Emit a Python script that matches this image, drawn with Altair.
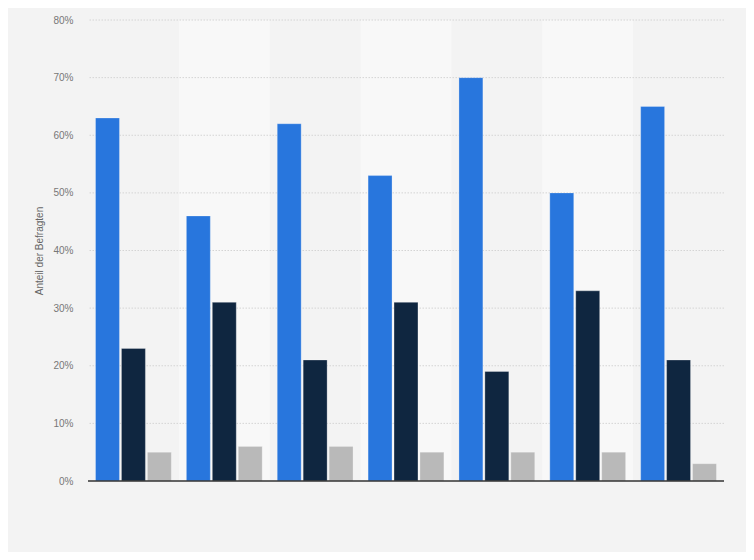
import altair as alt
import pandas as pd

groups = ["1", "2", "3", "4", "5", "6", "7"]
series = ["Ja", "Nein", "Weiß nicht"]
ja = [63, 46, 62, 53, 70, 50, 65]
nein = [23, 31, 21, 31, 19, 33, 21]
weiss_nicht = [5, 6, 6, 5, 5, 5, 3]
y_ticks = [0, 0.1, 0.2, 0.3, 0.4, 0.5, 0.6, 0.7, 0.8]

rows = []
for i, g in enumerate(groups):
    for s, vals in zip(series, [ja, nein, weiss_nicht]):
        rows.append({"gruppe": g, "serie": s, "wert": vals[i] / 100})
df = pd.DataFrame(rows)
bands = pd.DataFrame({"gruppe": groups})
grid = pd.DataFrame({"y": y_ticks[1:]})

xscale = alt.Scale(domain=groups, paddingInner=0, paddingOuter=0)
yscale = alt.Scale(domain=[0, 0.8], nice=False)

band_layer = alt.Chart(bands).transform_window(
    idx="row_number()"
).transform_filter("datum.idx % 2 == 0").mark_rect(color="#f8f8f8").encode(
    x=alt.X("gruppe:N", scale=xscale, axis=None),
)

grid_layer = alt.Chart(grid).mark_rule(color="#d4d4d4", strokeWidth=1, strokeDash=[1.5, 1.5]).encode(
    y=alt.Y("y:Q", scale=yscale)
)

bars = alt.Chart(df).mark_bar(stroke="#ffffff", strokeOpacity=0.35, strokeWidth=0.8).encode(
    x=alt.X("gruppe:N", scale=xscale, axis=None),
    xOffset=alt.XOffset("serie:N", sort=series,
                        scale=alt.Scale(paddingInner=0.077, paddingOuter=0.29)),
    y=alt.Y("wert:Q",
            scale=yscale,
            axis=alt.Axis(format=".0%", values=y_ticks,
                          title="Anteil der Befragten", titleFontWeight="normal",
                          titleFontSize=10, titleColor="#666666", titlePadding=8,
                          labelColor="#777777", labelFontSize=10, labelPadding=15,
                          ticks=False, domain=False, grid=False)),
    color=alt.Color("serie:N", sort=series,
                    scale=alt.Scale(domain=series, range=["#2876dd", "#0f2640", "#b9b9b9"]),
                    legend=None),
)

baseline = alt.Chart(pd.DataFrame({"y": [0]})).mark_rule(color="#333333", strokeWidth=1.3).encode(
    y=alt.Y("y:Q", scale=yscale)
)

chart = alt.layer(band_layer, grid_layer, bars, baseline).properties(
    width=636, height=461,
    background="#f3f3f3",
    padding={"left": 80, "top": 12, "right": 22, "bottom": 71},
    autosize=alt.AutoSizeParams(type="none"),
).configure(
    font="Liberation Sans"
).configure_view(
    strokeWidth=0, stroke="transparent"
).configure_axis(
    domain=False, grid=False
)

chart.save("out.html", embed_options={"renderer": "svg", "actions": False})
